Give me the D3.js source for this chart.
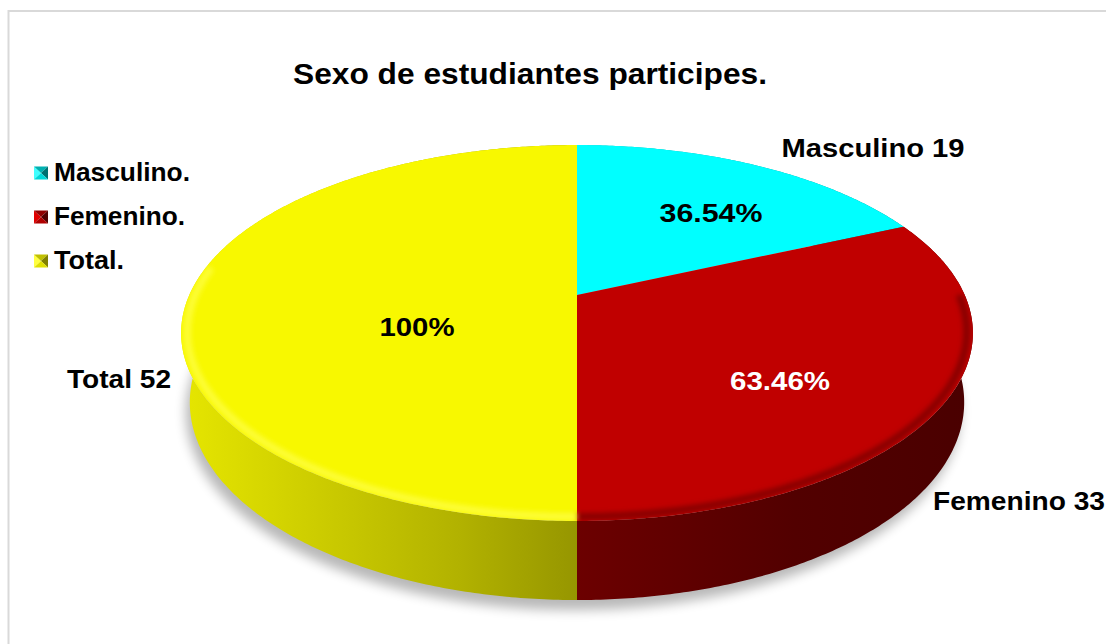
<!DOCTYPE html>
<html>
<head>
<meta charset="utf-8">
<script src="https://cdn.jsdelivr.net/npm/d3@7"></script>
<style>
  html, body { margin: 0; padding: 0; background: #fff; }
  svg { display: block; font-family: "Liberation Sans", Arial, sans-serif; }
</style>
</head>
<body>
<div id="chart"></div>
<script>
// data
const categories = ["Masculino", "Femenino", "Total"];
const values = [19, 33, 52];
const legendLabels = ["Masculino.", "Femenino.", "Total."];
const pctLabels = ["36.54%", "63.46%", "100%"];
const outerLabels = categories.map((c, i) => `${c} ${values[i]}`);

// styles
const topColors = ["#00ffff", "#c00000", "#f8f800"];
const sideStops = [
  [["#00c8c8", 0], ["#008080", 1]],
  [["#6c0000", 0], ["#520000", 0.55], ["#4a0000", 1]],
  [["#e6e600", 0], ["#cccc00", 0.35], ["#b2b200", 0.7], ["#969600", 1]]
];
const markerShades = [
  ["#40ffff", "#00b0b0", "#007070", "#00d8d8"],
  ["#e00000", "#900000", "#500000", "#b00000"],
  ["#ffff40", "#c0c000", "#808000", "#e0e000"]
];

const width = 1106, height = 644;

const svg = d3.select("#chart").append("svg")
  .attr("width", width)
  .attr("height", height);

const defs = svg.append("defs");

// chart frame (light gray, open at right/bottom)
svg.append("line").attr("x1", 8).attr("x2", width).attr("y1", 11).attr("y2", 11)
  .attr("stroke", "#d9d9d9").attr("stroke-width", 2);
svg.append("line").attr("x1", 8.5).attr("x2", 8.5).attr("y1", 10).attr("y2", height)
  .attr("stroke", "#d9d9d9").attr("stroke-width", 2);

// --- perspective projection of a unit-radius disc ---
const CX = 577, CY = 295;       // where the slices meet on screen
const K = 1697, DR = 4.377;     // focal factor, camera distance / radius
const SIN = 0.465, COS = 0.885; // tilt of the camera
const H = 0.203;                // thickness / radius

function proj(X, Y, Z) {
  const d = DR + Z * COS - Y * SIN;
  const up = Y * COS + Z * SIN;
  return [CX + K * X / d, CY - K * up / d];
}

function arcPts(a0, a1, r, y) {
  const n = Math.max(8, Math.ceil((a1 - a0) / 0.01));
  return d3.range(n + 1).map(k => {
    const a = a0 + (a1 - a0) * k / n;
    return proj(r * Math.sin(a), y, r * Math.cos(a));
  });
}

const line = d3.line().curve(d3.curveLinearClosed);
const openLine = d3.line();

const arcs = d3.pie().sort(null).value(d => d)(values);

// soft shadow under the disc
defs.append("filter").attr("id", "shadowBlur")
  .attr("x", "-10%").attr("y", "-10%").attr("width", "120%").attr("height", "130%")
  .append("feGaussianBlur").attr("stdDeviation", 6);

svg.append("path")
  .attr("d", line(arcPts(0, 2 * Math.PI, 1.0, -H)))
  .attr("transform", "translate(-4,10)")
  .attr("fill", "#000")
  .attr("opacity", 0.28)
  .attr("filter", "url(#shadowBlur)");

// side walls
arcs.forEach((a, i) => {
  const g = defs.append("linearGradient")
    .attr("id", `side${i}`)
    .attr("gradientUnits", "userSpaceOnUse");
  const xs = arcPts(a.startAngle, a.endAngle, 1, 0).map(p => p[0]);
  g.attr("x1", d3.min(xs)).attr("x2", d3.max(xs)).attr("y1", 0).attr("y2", 0);
  sideStops[i].forEach(([c, o]) => {
    g.append("stop").attr("offset", o).attr("stop-color", c);
  });
});

const sides = svg.append("g");
arcs.forEach((a, i) => {
  const top = arcPts(a.startAngle, a.endAngle, 1, 0);
  const bot = arcPts(a.startAngle, a.endAngle, 1, -H).reverse();
  sides.append("path")
    .attr("d", line(top.concat(bot)))
    .attr("fill", `url(#side${i})`);
});

// top faces
const tops = svg.append("g");
arcs.forEach((a, i) => {
  const pts = [proj(0, 0, 0)].concat(arcPts(a.startAngle, a.endAngle, 1, 0));
  tops.append("path")
    .attr("d", line(pts))
    .attr("fill", topColors[i]);
});

// bevel along the front rim of the top face
defs.append("filter").attr("id", "bevelBlur")
  .attr("x", "-5%").attr("y", "-5%").attr("width", "110%").attr("height", "110%")
  .append("feGaussianBlur").attr("stdDeviation", 2.5);
const clip = defs.append("clipPath").attr("id", "topClip");
clip.append("path").attr("d", line(arcPts(0, 2 * Math.PI, 1, 0)));

const bevel = svg.append("g").attr("clip-path", "url(#topClip)");
const bevelColors = ["#00d0d0", "#700000", "#ffff50"];
const bevelOpacity = [0, 0.7, 0.7];
const front0 = Math.PI * 0.5, front1 = Math.PI * 1.55;
arcs.forEach((a, i) => {
  const a0 = Math.max(a.startAngle, front0), a1 = Math.min(a.endAngle, front1);
  if (a1 <= a0 || bevelOpacity[i] === 0) return;
  bevel.append("path")
    .attr("d", openLine(arcPts(a0, a1, 0.985, 0)))
    .attr("fill", "none")
    .attr("stroke", bevelColors[i])
    .attr("stroke-opacity", bevelOpacity[i])
    .attr("stroke-width", 7)
    .attr("filter", "url(#bevelBlur)");
});

// helper: bold text stretched to the width measured in the picture
function label(x, y, txt, size, w, color = "#000", anchor = "middle") {
  const t = svg.append("text")
    .attr("x", x).attr("y", y)
    .attr("text-anchor", anchor)
    .attr("font-size", size)
    .attr("font-weight", "bold")
    .attr("fill", color)
    .text(txt);
  if (w) t.attr("textLength", w).attr("lengthAdjust", "spacingAndGlyphs");
  return t;
}

// title
label(530, 84, "Sexo de estudiantes participes.", 30, 474);

// percentage labels
label(711, 222, pctLabels[0], 25, 103);
label(780, 390, pctLabels[1], 25, 100, "#fff");
label(417, 336, pctLabels[2], 25, 75);

// category labels outside
label(873, 157, outerLabels[0], 25, 183);
label(1019, 510, outerLabels[1], 25, 172);
label(119, 388, outerLabels[2], 25, 104);

// legend
const legendY = d3.scalePoint().domain(categories).range([173, 261]);
const legendW = [136, 131, 70];
categories.forEach((c, i) => {
  const y = legendY(c);
  const x0 = 34, w = 14, h = 13, y0 = y - h / 2;
  const cxm = x0 + w / 2, cym = y;
  const tri = [
    [[x0, y0], [cxm, cym], [x0, y0 + h]],           // left
    [[x0, y0], [x0 + w, y0], [cxm, cym]],           // top
    [[x0 + w, y0], [x0 + w, y0 + h], [cxm, cym]],   // right
    [[x0, y0 + h], [cxm, cym], [x0 + w, y0 + h]]    // bottom
  ];
  tri.forEach((p, k) => {
    svg.append("path").attr("d", line(p)).attr("fill", markerShades[i][k]);
  });
  label(54, y + 8, legendLabels[i], 25, legendW[i], "#000", "start");
});
</script>
</body>
</html>
